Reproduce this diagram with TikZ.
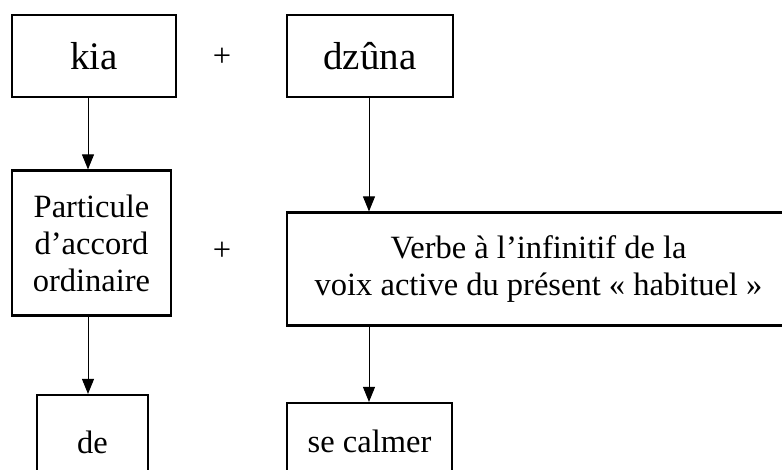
\documentclass[tikz,border=0pt]{standalone}
\usepackage{fontspec}
\setmainfont{Liberation Serif}
\usetikzlibrary{arrows.meta}
\begin{document}
\begin{tikzpicture}[x=1pt,y=-1pt,
  box/.style={draw, line width=2.2pt, inner sep=0pt, align=center},
  conn/.style={-{Triangle[width=12pt,length=15pt]}, line width=1pt},
  big/.style={font=\fontsize{39}{46}\selectfont},
  mid/.style={font=\fontsize{32.5}{37}\selectfont}]
\useasboundingbox (0,0) rectangle (782,470);
\clip (0,0) rectangle (782,470);
\node[box,big,minimum width=164pt,minimum height=82pt] (kia) at (94,56) {kia};
\node[mid] (plusA) at (222,57) {+};
\node[box,big,minimum width=166pt,minimum height=82pt] (dzuna) at (370,56) {dzûna};
\node[box,mid,minimum width=159pt,minimum height=145pt] (part) at (91.5,243) {Particule\\d’accord\\ordinaire};
\node[mid] (plusB) at (222,251) {+};
\node[box,mid,minimum width=503pt,minimum height=113pt] (verbe) at (538.5,269) {Verbe à l’infinitif de la\\voix active du présent « habituel »};
\node[box,mid,minimum width=111pt,minimum height=95pt] (de) at (92.5,442.5) {de};
\node[box,mid,minimum width=165pt,minimum height=77pt] (calmer) at (369.5,441.5) {se calmer};
\coordinate (ax) at (88,0);
\coordinate (bx) at (369,0);
\draw[conn] (kia.south -| ax) -- (part.north -| ax);
\draw[conn] (part.south -| ax) -- (de.north -| ax);
\draw[conn] (dzuna.south -| bx) -- (verbe.north -| bx);
\draw[conn] (verbe.south -| bx) -- (calmer.north -| bx);
\end{tikzpicture}
\end{document}
